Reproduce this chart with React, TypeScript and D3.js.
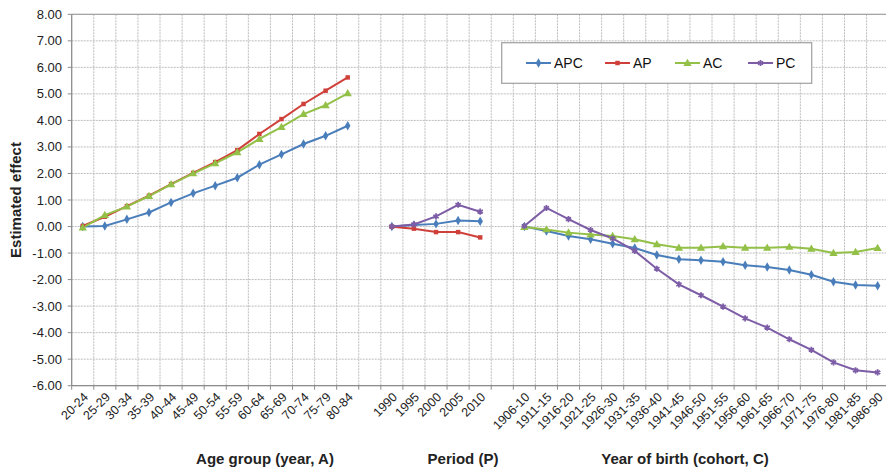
import React from "react";
import * as d3 from "d3";

const ageGroups = ["20-24","25-29","30-34","35-39","40-44","45-49","50-54","55-59","60-64","65-69","70-74","75-79","80-84"];
const periods = ["1990","1995","2000","2005","2010"];
const cohorts = ["1906-10","1911-15","1916-20","1921-25","1926-30","1931-35","1936-40","1941-45","1946-50","1951-55","1956-60","1961-65","1966-70","1971-75","1976-80","1981-85","1986-90"];

const apcAge = [0,0.02,0.27,0.53,0.91,1.25,1.54,1.84,2.33,2.72,3.11,3.42,3.80];
const apAge = [0.02,0.37,0.77,1.16,1.60,2.02,2.43,2.88,3.49,4.05,4.62,5.12,5.62];
const acAge = [-0.04,0.43,0.75,1.15,1.59,2.0,2.38,2.80,3.30,3.75,4.24,4.57,5.02];

const apcPeriod = [0,0.06,0.1,0.23,0.2];
const apPeriod = [-0.01,-0.08,-0.21,-0.21,-0.41];
const pcPeriod = [0,0.08,0.38,0.82,0.56];

const apcCohort = [0,-0.17,-0.36,-0.48,-0.65,-0.81,-1.07,-1.23,-1.27,-1.33,-1.46,-1.53,-1.64,-1.82,-2.08,-2.20,-2.23];
const acCohort = [-0.02,-0.11,-0.23,-0.30,-0.36,-0.48,-0.67,-0.80,-0.80,-0.75,-0.80,-0.80,-0.77,-0.84,-1.0,-0.96,-0.81];
const pcCohort = [0.02,0.70,0.28,-0.13,-0.45,-0.92,-1.59,-2.18,-2.59,-3.02,-3.46,-3.81,-4.25,-4.65,-5.12,-5.42,-5.50];

const yTicks = d3.range(-6, 9);
const seriesNames = ["APC","AP","AC","PC"];

const W = 886, H = 470;
const FONT = "'Liberation Sans', Arial, Helvetica, sans-serif";

const COLORS: Record<string,string> = { APC: "#4a7ebb", AP: "#d0403a", AC: "#93c047", PC: "#7d5da6" };

const slots = [...ageGroups, "gap1", ...periods, "gap2", ...cohorts];

export default function App() {
  const x = d3.scaleBand<string>().domain(slots).range([71.7, 71.7 + 37 * 22.08]).padding(0);
  const y = d3.scaleLinear().domain([-6, 8]).range([385.7, 14.3]);
  const cx = (k: string) => (x(k) as number) + x.bandwidth() / 2;

  const mk = (cats: string[], vals: number[]) => cats.map((c, i) => ({ c, v: vals[i] }));
  const series = [
    { name: "APC", segs: [mk(ageGroups, apcAge), mk(periods, apcPeriod), mk(cohorts, apcCohort)] },
    { name: "AP", segs: [mk(ageGroups, apAge), mk(periods, apPeriod)] },
    { name: "AC", segs: [mk(ageGroups, acAge), mk(cohorts, acCohort)] },
    { name: "PC", segs: [mk(periods, pcPeriod), mk(cohorts, pcCohort)] },
  ];

  const line = d3.line<{ c: string; v: number }>().x(d => cx(d.c)).y(d => y(d.v));

  const marker = (name: string, px: number, py: number, key: string) => {
    const col = COLORS[name];
    if (name === "APC") {
      const p = d3.symbol(d3.symbolDiamond, 26)();
      return <path key={key} d={p || ""} transform={`translate(${px},${py})`} fill={col} />;
    }
    if (name === "AP") {
      const p = d3.symbol(d3.symbolSquare, 20)();
      return <path key={key} d={p || ""} transform={`translate(${px},${py})`} fill={col} />;
    }
    if (name === "AC") {
      const p = d3.symbol(d3.symbolTriangle, 30)();
      return <path key={key} d={p || ""} transform={`translate(${px},${py + 0.5})`} fill={col} />;
    }
    const p = d3.symbol(d3.symbolAsterisk, 26)();
    return <path key={key} d={p || ""} transform={`translate(${px},${py})`} fill="none" stroke={col} strokeWidth={1.8} />;
  };

  const x0 = 71.7, x1 = 71.7 + 37 * 22.08;
  const boundaries = slots.map(s => x(s) as number).concat([x1]);

  const legendX = [526, 605, 675, 748];

  return (
    <div style={{ position: "absolute", left: 0, top: 0 }}>
      <svg width={W} height={H} style={{ display: "block", background: "#fff" }} fontFamily={FONT}>
        <rect x={0} y={0} width={W} height={H} fill="#fff" />
        {/* horizontal gridlines */}
        {yTicks.map(t => (
          <line key={"hg" + t} x1={x0} x2={x1} y1={y(t)} y2={y(t)} stroke="#bdbdbd" strokeWidth={1} strokeDasharray="2,1" />
        ))}
        {/* vertical gridlines */}
        {boundaries.slice(1).map((b, i) => (
          <line key={"vg" + i} x1={b} x2={b} y1={y(8)} y2={y(-6)} stroke="#bdbdbd" strokeWidth={1} strokeDasharray="2,1" />
        ))}
        {/* top border */}
        <line x1={x0} x2={x1} y1={y(8)} y2={y(8)} stroke="#a6a6a6" strokeWidth={1.2} />
        {/* axes */}
        <line x1={x0} x2={x0} y1={y(8)} y2={y(-6)} stroke="#8c8c8c" strokeWidth={1.3} />
        <line x1={x0} x2={x1} y1={y(-6)} y2={y(-6)} stroke="#8c8c8c" strokeWidth={1.3} />
        {yTicks.map(t => (
          <line key={"yt" + t} x1={x0 - 4} x2={x0} y1={y(t)} y2={y(t)} stroke="#8c8c8c" />
        ))}
        {boundaries.map((b, i) => (
          <line key={"xt" + i} x1={b} x2={b} y1={y(-6)} y2={y(-6) + 4} stroke="#8c8c8c" />
        ))}
        {/* y tick labels */}
        {yTicks.map(t => (
          <text key={"yl" + t} x={62} y={y(t)} dy="0.35em" textAnchor="end" fontSize={13} fill="#222">
            {t.toFixed(2)}
          </text>
        ))}
        {/* x tick labels */}
        {[...ageGroups, ...periods, ...cohorts].map(c => (
          <text key={"xl" + c} transform={`translate(${cx(c) + 3},${y(-6) + 9}) rotate(-45)`} textAnchor="end" dy="0.35em" fontSize={12.5} fill="#222">
            {c}
          </text>
        ))}
        {/* axis titles */}
        <text x={265} y={464} textAnchor="middle" fontSize={15} fontWeight="bold" fill="#222">Age group (year, A)</text>
        <text x={463} y={464} textAnchor="middle" fontSize={15} fontWeight="bold" fill="#222">Period (P)</text>
        <text x={685} y={464} textAnchor="middle" fontSize={15} fontWeight="bold" fill="#222">Year of birth (cohort, C)</text>
        <text transform={`translate(21,200) rotate(-90)`} textAnchor="middle" fontSize={15} fontWeight="bold" fill="#222">Estimated effect</text>
        {/* series */}
        {series.map(s => (
          <g key={s.name}>
            {s.segs.map((seg, i) => (
              <path key={i} d={line(seg) || ""} fill="none" stroke={COLORS[s.name]} strokeWidth={2} />
            ))}
          </g>
        ))}
        {series.map(s => (
          <g key={"m" + s.name}>
            {s.segs.flatMap((seg, i) => seg.map((d, j) => marker(s.name, cx(d.c), y(d.v), `${i}-${j}`)))}
          </g>
        ))}
        {/* legend */}
        <rect x={501.7} y={42.7} width={310} height={40.6} fill="#fff" stroke="#a6a6a6" strokeWidth={1.3} />
        {seriesNames.map((n, i) => (
          <g key={"lg" + n}>
            <line x1={legendX[i]} x2={legendX[i] + 25} y1={63} y2={63} stroke={COLORS[n]} strokeWidth={2} />
            {marker(n, legendX[i] + 12.5, 63, "lm" + n)}
            <text x={legendX[i] + 28} y={63} dy="0.36em" fontSize={14} fill="#111">{n}</text>
          </g>
        ))}
      </svg>
    </div>
  );
}
